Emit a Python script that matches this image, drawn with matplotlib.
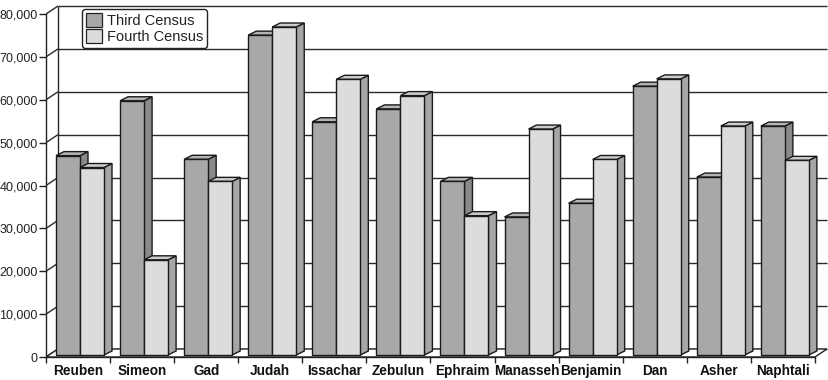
import matplotlib
matplotlib.use('Agg')
import matplotlib.pyplot as plt
from matplotlib.patches import Polygon, Patch
import matplotlib.ticker as mticker

tribes = ["Reuben", "Simeon", "Gad", "Judah", "Issachar", "Zebulun",
          "Ephraim", "Manasseh", "Benjamin", "Dan", "Asher", "Naphtali"]
third_census = [46500, 59300, 45650, 74600, 54400, 57400,
                40500, 32200, 35400, 62700, 41500, 53400]
fourth_census = [43730, 22200, 40500, 76500, 64300, 60500,
                 32500, 52700, 45600, 64400, 53400, 45400]
y_ticks = [0, 10000, 20000, 30000, 40000, 50000, 60000, 70000, 80000]

plt.rcParams['font.family'] = ['Liberation Sans Narrow', 'Liberation Sans', 'DejaVu Sans']

W, H = 829, 380
GW = 64.08            # pixels per category
PY = 343 / 80000      # pixels per person


def dx(px):
    return px / GW


def dy(px):
    return px / PY


fig = plt.figure(figsize=(W / 100, H / 100), dpi=100)
ax = fig.add_axes([46 / W, 23 / H, 783 / W, 352 / H])
ax.set_xlim(-0.5, -0.5 + 783 / GW)
ax.set_ylim(0, 352 / PY)
ax.patch.set_visible(False)

n = len(tribes)
wall_x, wall_y = dx(12), dy(8)
line_kw = dict(color='#2a2a2a', lw=1.0, solid_capstyle='butt')

# back wall + left wall gridlines
for v in y_ticks:
    ax.plot([-0.5 + wall_x, n - 0.5 + wall_x], [v + wall_y, v + wall_y], zorder=1, **line_kw)
    ax.plot([-0.5, -0.5 + wall_x], [v, v + wall_y], zorder=1, **line_kw)
ax.plot([-0.5 + wall_x, -0.5 + wall_x], [wall_y, max(y_ticks) + wall_y], zorder=1, **line_kw)

# floor
floor = Polygon([(-0.5, 0), (n - 0.5, 0), (n - 0.5 + wall_x, wall_y), (-0.5 + wall_x, wall_y)],
                closed=True, facecolor='white', edgecolor='#222222', lw=1.0, zorder=2)
ax.add_patch(floor)

# bars
bw = 24 / GW
f_x, f_y = dx(3), dy(2)        # front face offset inside floor
d_x, d_y = dx(8), dy(4)        # bar depth
styles = [('#a8a8aa', '#8a8a8c', '#b4b4b6'), ('#dcdcde', '#a6a6a8', '#cdcdcf')]

for i in range(n):
    for j, vals in enumerate([third_census, fourth_census]):
        front_c, side_c, top_c = styles[j]
        x0 = i - 0.5 + dx(7) + j * bw + f_x
        x1 = x0 + bw
        y0 = f_y
        y1 = vals[i] + f_y
        z = 3 + i * 2 + j
        ax.add_patch(Polygon([(x1, y0), (x1 + d_x, y0 + d_y), (x1 + d_x, y1 + d_y), (x1, y1)],
                             facecolor=side_c, edgecolor='#1a1a1a', lw=1.0, zorder=z))
        ax.add_patch(Polygon([(x0, y1), (x1, y1), (x1 + d_x, y1 + d_y), (x0 + d_x, y1 + d_y)],
                             facecolor=top_c, edgecolor='#1a1a1a', lw=1.0, zorder=z))
        ax.add_patch(Polygon([(x0, y0), (x1, y0), (x1, y1), (x0, y1)],
                             facecolor=front_c, edgecolor='#1a1a1a', lw=1.0, zorder=z))

# axes
for s in ['top', 'right']:
    ax.spines[s].set_visible(False)
ax.spines['left'].set_bounds(0, max(y_ticks))
ax.spines['bottom'].set_bounds(-0.5, n - 0.5)
for s in ['left', 'bottom']:
    ax.spines[s].set_color('#222222')
    ax.spines[s].set_linewidth(1.0)
    ax.spines[s].set_zorder(40)

ax.set_yticks(y_ticks)
ax.yaxis.set_major_formatter(mticker.FuncFormatter(lambda v, p: f"{int(v):,}"))
ax.tick_params(axis='y', direction='out', length=5, width=1.0, color='#222222',
               labelsize=9, pad=1, labelcolor='#222222')

ax.set_xticks([i - 0.5 for i in range(n + 1)])
ax.set_xticklabels([])
ax.set_xticks(range(n), minor=True)
ax.set_xticklabels(tribes, minor=True, fontweight='bold', fontsize=9.8, color='#111111')
ax.tick_params(axis='x', which='major', direction='out', length=4, width=1.0, color='#222222')
ax.tick_params(axis='x', which='minor', length=0, pad=5)

handles = [Patch(facecolor=styles[0][0], edgecolor='#222222', lw=0.9),
           Patch(facecolor=styles[1][0], edgecolor='#222222', lw=0.9)]
leg = ax.legend(handles, ["Third Census", "Fourth Census"], loc='upper left',
                bbox_to_anchor=(82 / W, 1 - 9 / H), bbox_transform=fig.transFigure,
                fontsize=10.5, handlelength=1.1, handleheight=1.1, handletextpad=0.35,
                labelspacing=0.1, borderpad=0.25, borderaxespad=0, framealpha=1,
                edgecolor='#222222', fancybox=True)
leg.get_frame().set_linewidth(1.0)
leg.set_zorder(50)
for t in leg.get_texts():
    t.set_family(['Liberation Sans', 'DejaVu Sans'])
    t.set_color('#222222')

fig.savefig('out.png', dpi=100)
